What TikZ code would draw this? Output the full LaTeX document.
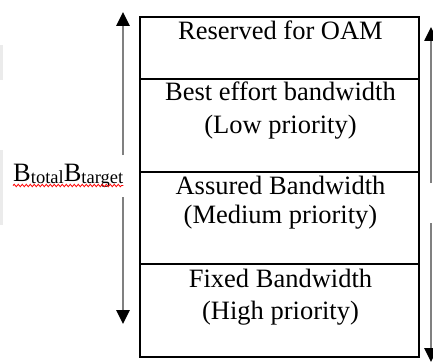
\documentclass[tikz,border=0pt]{standalone}
\usepackage{fontspec}
\setmainfont{Liberation Serif}
\usetikzlibrary{arrows.meta,decorations.pathmorphing}
\begin{document}
\begin{tikzpicture}[x=1pt,y=-1pt,
  cell/.style={draw=black,line width=1.2pt,rectangle,minimum width=279pt,inner sep=0pt},
  txt/.style={anchor=base,inner sep=0pt,font=\fontsize{26.5}{30}\selectfont},
  garrow/.style={draw=black!50,line width=2.6pt,-{Triangle[width=13pt,length=14pt,color=black]}},
  edge/.style={fill=black!8,draw=none}]
\useasboundingbox (0,0) rectangle (433,361);
\fill[white] (0,0) rectangle (433,361);
% faint screenshot marks at the left edge
\path[edge] (0,45) rectangle (3,80);
\path[edge] (0,150) rectangle (3,225);
% cells
\node[cell,minimum height=62pt] (c1) at (279.5,48) {};
\node[cell,minimum height=93pt] (c2) at (279.5,125.5) {};
\node[cell,minimum height=92pt] (c3) at (279.5,218) {};
\node[cell,minimum height=93pt] (c4) at (279.5,310.5) {};
% texts
\node[txt] (t1) at (280.5,40) {Reserved for OAM};
\node[txt] (t2a) at (280.5,100) {Best effort bandwidth};
\node[txt] (t2b) at (280.5,133) {(Low priority)};
\node[txt] (t3a) at (280.5,194) {Assured Bandwidth};
\node[txt] (t3b) at (280.5,223) {(Medium priority)};
\node[txt] (t4a) at (280.5,287) {Fixed Bandwidth};
\node[txt] (t4b) at (280.5,319) {(High priority)};
% left label
\node[anchor=base west,inner sep=0pt,font=\fontsize{26.5}{30}\selectfont] (lab) at (13,181)
  {B\raisebox{-2.5pt}{\fontsize{18.5}{20}\selectfont total}B\raisebox{-2.5pt}{\fontsize{18.5}{20}\selectfont target}};
\draw[red,line width=0.8pt,decorate,decoration={snake,segment length=4pt,amplitude=1.2pt}]
  ([yshift=-4.5pt]lab.base west) -- ([yshift=-4.5pt]lab.base east);
% left arrow
\coordinate (la1) at (123,155);
\coordinate (latop) at (123,12);
\coordinate (la2) at (123,197);
\coordinate (labot) at (123,324);
\draw[garrow] (la1) -- (latop);
\draw[garrow] (la2) -- (labot);
% right arrow
\coordinate (ra1) at (431,183);
\coordinate (ratop) at (431,27);
\coordinate (ra2) at (431,223);
\coordinate (rabot) at (431,362);
\draw[garrow] (ra1) -- (ratop);
\draw[garrow] (ra2) -- (rabot);
\end{tikzpicture}
\end{document}
